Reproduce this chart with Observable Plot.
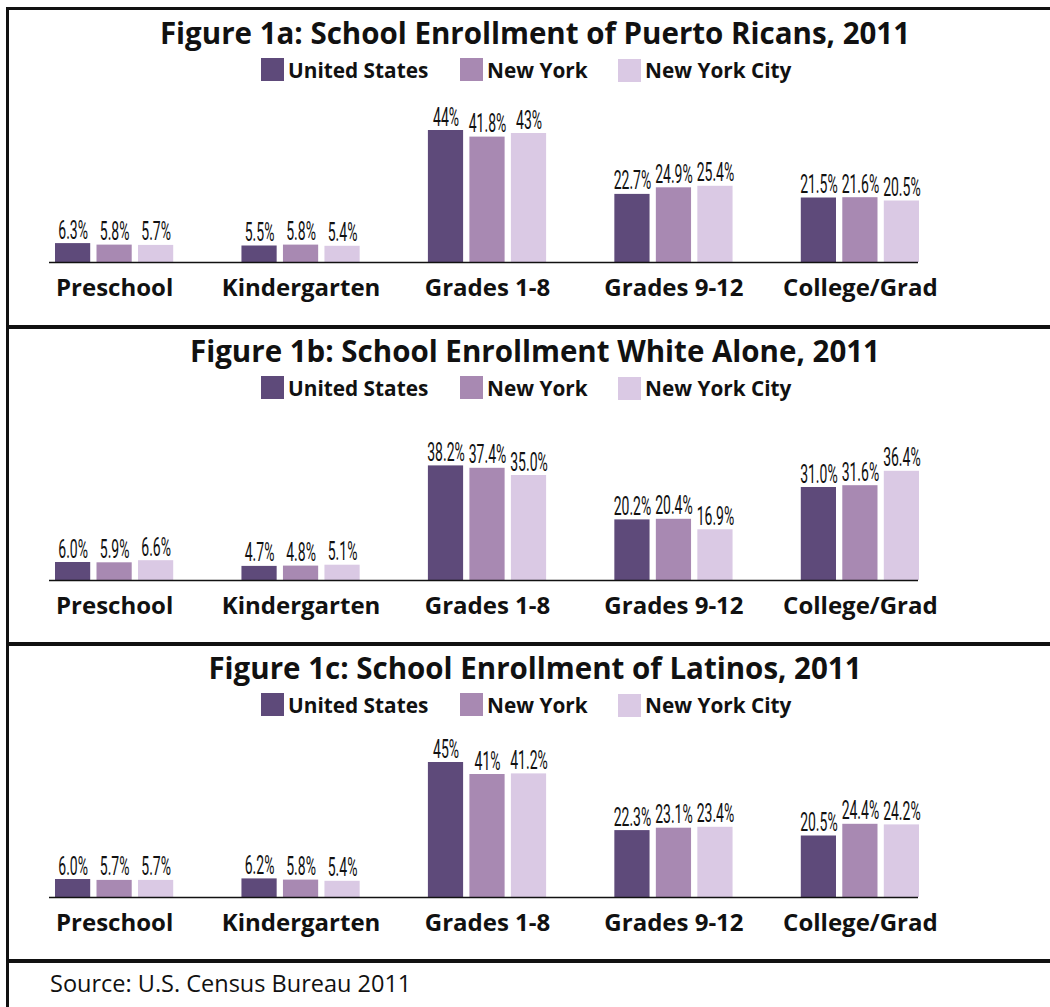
<!DOCTYPE html>
<html>
<head>
<meta charset="utf-8">
<script src="https://cdn.jsdelivr.net/npm/d3@7"></script>
<script src="https://cdn.jsdelivr.net/npm/@observablehq/plot@0.6"></script>
<style>
  body { margin: 0; background: #fff; }
  #page { position: relative; width: 1050px; height: 1007px; overflow: hidden; background: #fff; font-family: "Open Sans", sans-serif; color: #111; }
  .vline { position: absolute; left: 6px; top: 7px; width: 3px; height: 1000px; background: #111; }
  .hline { position: absolute; left: 6px; width: 1044px; background: #111; }
  .title { position: absolute; left: 9px; width: 1052px; text-align: center; font-weight: 700; font-size: 29.5px; line-height: 1; white-space: nowrap; }
  .sw { position: absolute; width: 23px; height: 23px; }
  .lt { position: absolute; font-weight: 700; font-size: 20.8px; line-height: 23px; white-space: nowrap; }
  .plot { position: absolute; left: 0; }
  .source { position: absolute; left: 50px; font-size: 23.5px; line-height: 1; white-space: nowrap; }
</style>
</head>
<body>
<div id="page"></div>
<script>
// ---- data ----
const categories = ["Preschool", "Kindergarten", "Grades 1-8", "Grades 9-12", "College/Grad"];
const series = ["United States", "New York", "New York City"];
const colors = ["#5e4a7a", "#a889b2", "#dac9e4"];

const titles = [
  "Figure 1a: School Enrollment of Puerto Ricans, 2011",
  "Figure 1b: School Enrollment White Alone, 2011",
  "Figure 1c: School Enrollment of Latinos, 2011"
];

// Figure 1a: Puerto Ricans
const prUS  = [6.3, 5.5, 44.0, 22.7, 21.5];
const prNY  = [5.8, 5.8, 41.8, 24.9, 21.6];
const prNYC = [5.7, 5.4, 43.0, 25.4, 20.5];
const prUSLabels  = ["6.3%", "5.5%", "44%", "22.7%", "21.5%"];
const prNYLabels  = ["5.8%", "5.8%", "41.8%", "24.9%", "21.6%"];
const prNYCLabels = ["5.7%", "5.4%", "43%", "25.4%", "20.5%"];

// Figure 1b: White alone
const whUS  = [6.0, 4.7, 38.2, 20.2, 31.0];
const whNY  = [5.9, 4.8, 37.4, 20.4, 31.6];
const whNYC = [6.6, 5.1, 35.0, 16.9, 36.4];
const whUSLabels  = ["6.0%", "4.7%", "38.2%", "20.2%", "31.0%"];
const whNYLabels  = ["5.9%", "4.8%", "37.4%", "20.4%", "31.6%"];
const whNYCLabels = ["6.6%", "5.1%", "35.0%", "16.9%", "36.4%"];

// Figure 1c: Latinos
const laUS  = [6.0, 6.2, 45.0, 22.3, 20.5];
const laNY  = [5.7, 5.8, 41.0, 23.1, 24.4];
const laNYC = [5.7, 5.4, 41.2, 23.4, 24.2];
const laUSLabels  = ["6.0%", "6.2%", "45%", "22.3%", "20.5%"];
const laNYLabels  = ["5.7%", "5.8%", "41%", "23.1%", "24.4%"];
const laNYCLabels = ["5.7%", "5.4%", "41.2%", "23.4%", "24.2%"];

const source = "Source: U.S. Census Bureau 2011";

const panels = [
  {title: titles[0], values: [prUS, prNY, prNYC], labels: [prUSLabels, prNYLabels, prNYCLabels]},
  {title: titles[1], values: [whUS, whNY, whNYC], labels: [whUSLabels, whNYLabels, whNYCLabels]},
  {title: titles[2], values: [laUS, laNY, laNYC], labels: [laUSLabels, laNYLabels, laNYCLabels]}
];

// ---- layout ----
const page = document.getElementById("page");
const panelTops = [7, 325, 642];
const sepHeights = [3, 4, 4];
const swatchLefts = [261, 460, 618];
const insets = [[0, 83], [41.5, 41.5], [83, 0]];
const offsets = [-41.5, 0, 41.5];

function el(cls, style, text) {
  const d = document.createElement("div");
  d.className = cls;
  Object.assign(d.style, style);
  if (text != null) d.textContent = text;
  page.appendChild(d);
  return d;
}

el("vline", {});

panels.forEach((p, k) => {
  const T = panelTops[k];
  el("hline", {top: T + "px", height: sepHeights[k] + "px"});
  el("title", {top: (T + 11) + "px"}, p.title);
  series.forEach((s, j) => {
    el("sw", {left: swatchLefts[j] + "px", top: (T + 51 + (j === 2 ? 1 : 0)) + "px", background: colors[j]});
    el("lt", {left: (swatchLefts[j] + 27) + "px", top: (T + 52) + "px"}, s);
  });

  const rows = series.map((s, j) => categories.map((c, i) => ({
    category: c, series: s, value: p.values[j][i], label: p.labels[j][i]
  })));

  const marks = [];
  rows.forEach((r, j) => {
    marks.push(Plot.barY(r, {x: "category", y: "value", fill: "series",
      insetLeft: insets[j][0], insetRight: insets[j][1]}));
  });
  rows.forEach((r, j) => {
    marks.push(Plot.text(r, {x: "category", y: "value", text: "label", dx: offsets[j], dy: -5,
      lineAnchor: "bottom", fontSize: 25, fontFamily: "Roboto", fill: "#111"}));
  });
  marks.push(Plot.ruleY([0], {stroke: "#111", strokeWidth: 1.6}));
  marks.push(Plot.axisX({tickSize: 0, tickPadding: 16, fontSize: 24, fontWeight: "bold",
    fontFamily: "Open Sans", label: null}));

  const chart = Plot.plot({
    width: 1050, height: 238,
    marginLeft: 49, marginRight: 132, marginTop: 0, marginBottom: 63,
    x: {domain: categories, range: [55, 919], paddingInner: 0.366, paddingOuter: 0, round: false, label: null},
    y: {domain: [0, 50], range: [175, 25], axis: null},
    color: {domain: series, range: colors},
    style: {fontFamily: "Open Sans", background: "transparent", color: "#111", overflow: "visible"},
    marks
  });
  chart.querySelectorAll('g[aria-label="text"] text').forEach(t => {
    const tr = t.getAttribute("transform");
    if (tr) t.setAttribute("transform", tr + " scale(0.56,1)");
  });
  chart.classList.add("plot");
  chart.style.position = "absolute";
  chart.style.left = "0px";
  chart.style.top = (T + 80) + "px";
  page.appendChild(chart);
});

el("hline", {top: "959px", height: "4px"});
el("source", {top: "972px"}, source);
</script>
</body>
</html>
